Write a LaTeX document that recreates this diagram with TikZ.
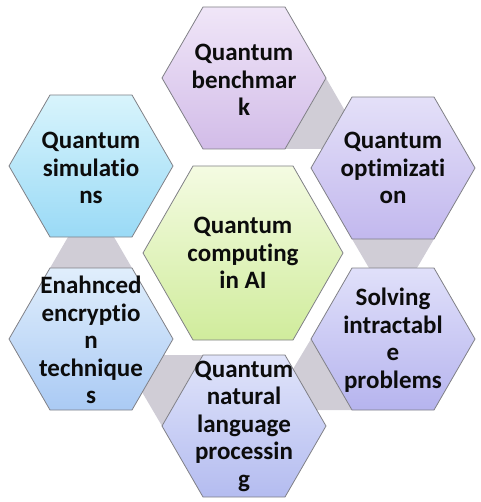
\documentclass[tikz,border=0pt]{standalone}
\usepackage{fontspec}
\setmainfont{Carlito}[Ligatures={NoCommon}]
\definecolor{hexline}{RGB}{128,128,134}
\definecolor{conngray}{RGB}{208,205,214}
\definecolor{txt}{RGB}{12,12,12}
\definecolor{tTop}{RGB}{240,230,248}\definecolor{tBot}{RGB}{210,188,232}
\definecolor{trTop}{RGB}{228,224,248}\definecolor{trBot}{RGB}{194,184,238}
\definecolor{brTop}{RGB}{224,224,250}\definecolor{brBot}{RGB}{182,180,238}
\definecolor{bTop}{RGB}{224,228,250}\definecolor{bBot}{RGB}{180,188,240}
\definecolor{blTop}{RGB}{224,238,252}\definecolor{blBot}{RGB}{170,202,244}
\definecolor{tlTop}{RGB}{216,244,252}\definecolor{tlBot}{RGB}{154,218,246}
\definecolor{cTop}{RGB}{244,251,226}\definecolor{cBot}{RGB}{208,236,156}
\begin{document}
\begin{tikzpicture}[x=1pt,y=-1pt,
  hexa/.style={draw=hexline,line width=0.8pt,line join=miter},
  conn/.style={fill=conngray},
  lbl/.style={font=\fontsize{25}{27.5}\selectfont\bfseries,text=txt,align=center,inner sep=0pt}]
\useasboundingbox (0,0) rectangle (480,502);
% gray connector pieces
\path[conn] (326,78) -- (344.5,110) -- (322,149) -- (285,149) -- cycle;
\path[conn] (352,239) -- (434,239) -- (417,268) -- (369,268) -- cycle;
\path[conn] (311,339) -- (352,410) -- (316,410) -- (293,369) -- cycle;
\path[conn] (164,355) -- (203,355) -- (162,426) -- (142,392) -- cycle;
\path[conn] (50,268) -- (132,268) -- (114,237) -- (68,237) -- cycle;
% hexagons
\path[hexa,top color=tTop,bottom color=tBot] (162,78) -- (203,7) -- (285,7) -- (326,78) -- (285,149) -- (203,149) -- cycle;
\path[hexa,top color=tlTop,bottom color=tlBot] (9,166) -- (50,95) -- (132,95) -- (173,166) -- (132,237) -- (50,237) -- cycle;
\path[hexa,top color=trTop,bottom color=trBot] (311,168) -- (352,97) -- (434,97) -- (475,168) -- (434,239) -- (352,239) -- cycle;
\path[hexa,top color=blTop,bottom color=blBot] (9,339) -- (50,268) -- (132,268) -- (173,339) -- (132,410) -- (50,410) -- cycle;
\path[hexa,top color=brTop,bottom color=brBot] (311,339) -- (352,268) -- (434,268) -- (475,339) -- (434,410) -- (352,410) -- cycle;
\path[hexa,top color=bTop,bottom color=bBot] (162,426) -- (203,355) -- (285,355) -- (326,426) -- (285,497) -- (203,497) -- cycle;
\path[hexa,top color=cTop,bottom color=cBot] (143,253) -- (193,166) -- (293,166) -- (343,253) -- (293,340) -- (193,340) -- cycle;
% labels
\node[lbl] (tT) at (244,80) {Quantum\\benchmar\\k};
\node[lbl] (tTL) at (91,168) {Quantum\\simulatio\\ns};
\node[lbl] (tTR) at (393,168) {Quantum\\optimizati\\on};
\node[lbl] (tC) at (243,253) {Quantum\\computing\\in AI};
\node[lbl] (tBL) at (91,340) {Enahnced\\encryptio\\n\\technique\\s};
\node[lbl] (tBR) at (393,340) {Solving\\intractabl\\e\\problems};
\node[lbl] (tB) at (244,426) {Quantum\\natural\\language\\processin\\g};
\end{tikzpicture}
\end{document}
